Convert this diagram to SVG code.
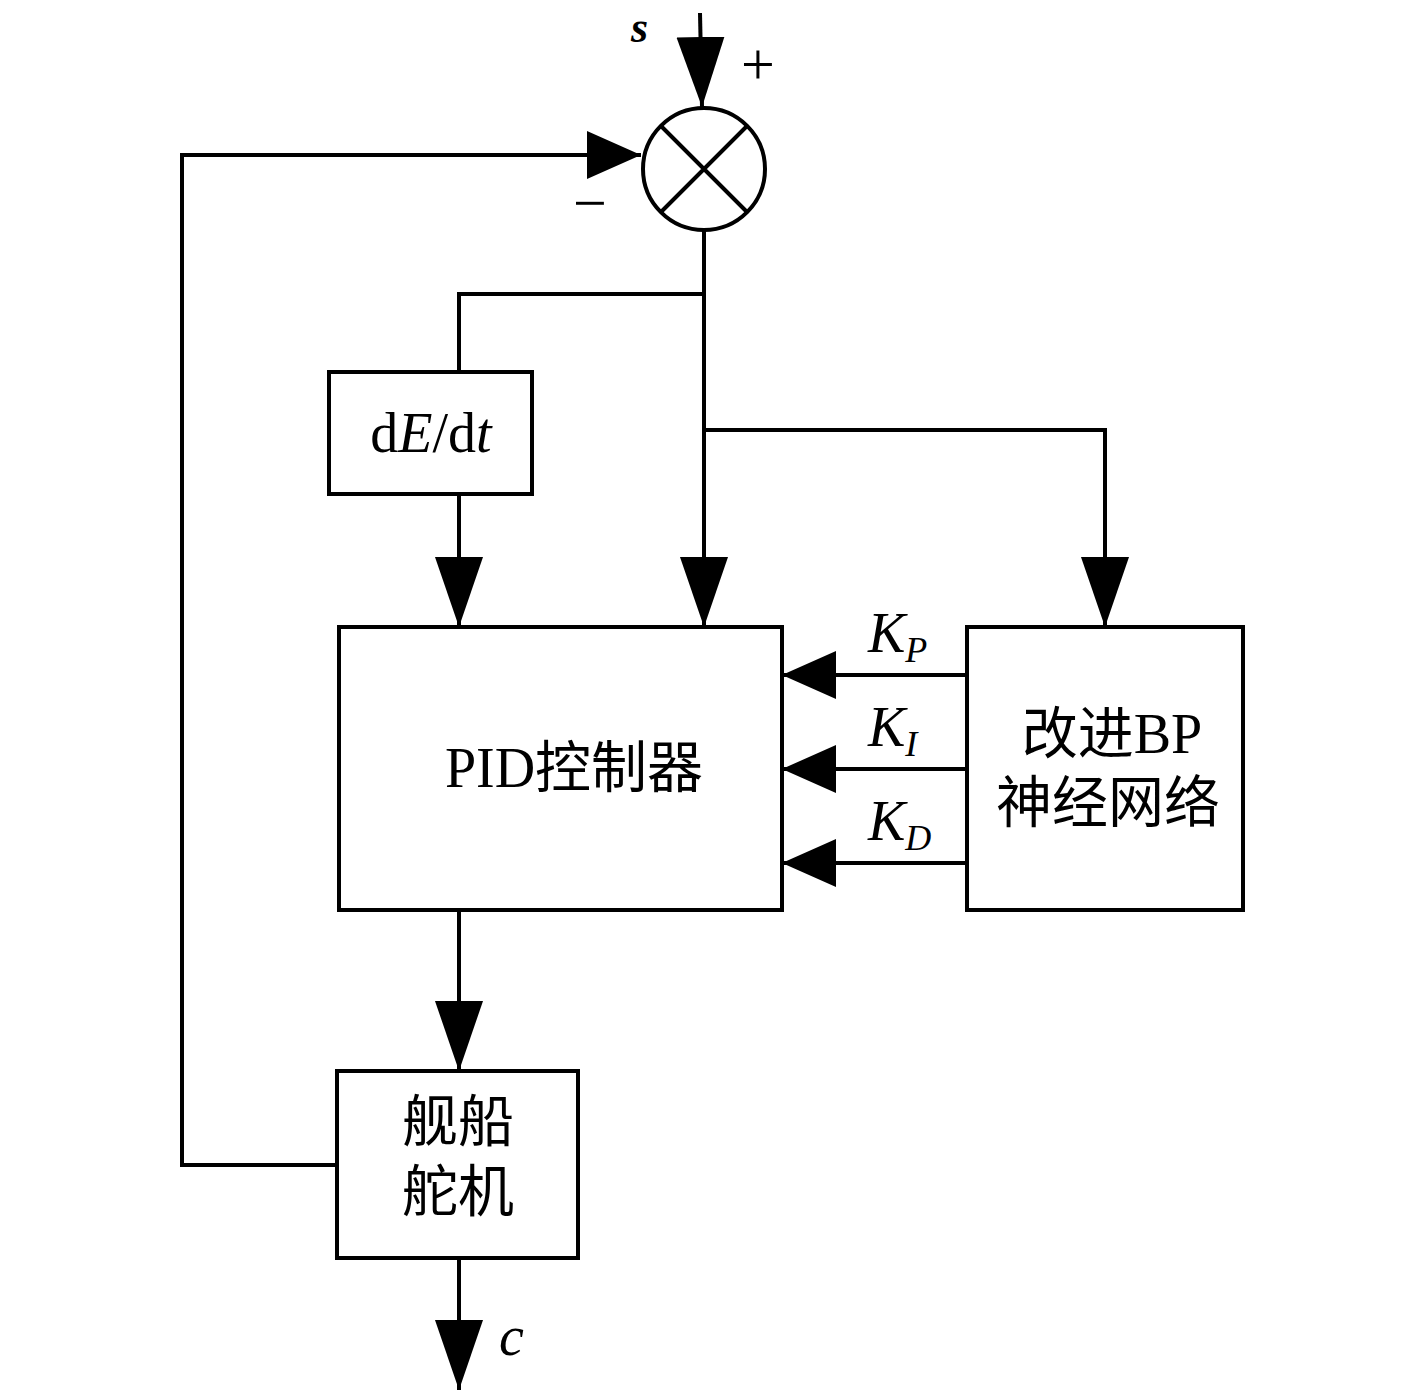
<svg xmlns="http://www.w3.org/2000/svg" width="1417" height="1392" viewBox="0 0 1417 1392">
<style>
.box{fill:#fff;stroke:#000;stroke-width:4}
.ln{fill:none;stroke:#000;stroke-width:4}
.t{font-family:"Liberation Serif","Noto Sans CJK SC",serif;font-size:56px;fill:#000}
.i{font-style:italic}
</style>
<defs>
<marker id="ah" markerUnits="userSpaceOnUse" markerWidth="72" markerHeight="50" refX="70" refY="24" orient="auto" viewBox="0 0 72 50">
<path d="M0,0 L70,24 L0,48 Z" fill="#000"/>
</marker>
<marker id="ahs" markerUnits="userSpaceOnUse" markerWidth="56" markerHeight="50" refX="54" refY="24" orient="auto" viewBox="0 0 56 50">
<path d="M0,0 L54,24 L0,48 Z" fill="#000"/>
</marker>
</defs>
<rect width="1417" height="1392" fill="#fff"/>
<g id="connectors">
<path class="ln" d="M700,13 L702,107" marker-end="url(#ah)"/>
<path class="ln" d="M337,1165 L182,1165 L182,155 L641,155" marker-end="url(#ahs)"/>
<path class="ln" d="M704,231 L704,627" marker-end="url(#ah)"/>
<path class="ln" d="M704,294 L459,294 L459,372"/>
<path class="ln" d="M459,494 L459,627" marker-end="url(#ah)"/>
<path class="ln" d="M704,430 L1105,430 L1105,627" marker-end="url(#ah)"/>
<path class="ln" d="M967,675 L782,675" marker-end="url(#ahs)"/>
<path class="ln" d="M967,769 L782,769" marker-end="url(#ahs)"/>
<path class="ln" d="M967,863 L782,863" marker-end="url(#ahs)"/>
<path class="ln" d="M459,910 L459,1071" marker-end="url(#ah)"/>
<path class="ln" d="M459,1258 L459,1390" marker-end="url(#ah)"/>
</g>
<g id="sum">
<circle cx="704" cy="169" r="61" fill="#fff" stroke="#000" stroke-width="4"/>
<path class="ln" d="M661,126 L747,212 M747,126 L661,212"/>
</g>
<g id="labels">
<text class="t i" x="631" y="42" style="font-size:44px;font-weight:bold">s</text>
<text class="t" x="758" y="84" text-anchor="middle" style="font-size:60px">+</text>
<text class="t" x="590" y="223" text-anchor="middle" style="font-size:60px">−</text>
<text class="t i" x="499" y="1355">c</text>
<text class="t" x="868" y="652"><tspan class="i">K</tspan><tspan class="i" dy="10" style="font-size:36px">P</tspan></text>
<text class="t" x="868" y="746"><tspan class="i">K</tspan><tspan class="i" dy="10" style="font-size:36px">I</tspan></text>
<text class="t" x="868" y="840"><tspan class="i">K</tspan><tspan class="i" dy="10" style="font-size:36px">D</tspan></text>
</g>
<g id="dedt">
<rect class="box" x="329" y="372" width="203" height="122"/>
<text class="t" x="431" y="452" text-anchor="middle">d<tspan class="i">E</tspan>/d<tspan class="i">t</tspan></text>
</g>
<g id="pid">
<rect class="box" x="339" y="627" width="443" height="283"/>
<text class="t" x="574" y="787" text-anchor="middle">PID控制器</text>
</g>
<g id="bp">
<rect class="box" x="967" y="627" width="276" height="283"/>
<text class="t" x="1112" y="753" text-anchor="middle">改进BP</text>
<text class="t" x="1108" y="822" text-anchor="middle">神经网络</text>
</g>
<g id="ship">
<rect class="box" x="337" y="1071" width="241" height="187"/>
<text class="t" x="458" y="1141" text-anchor="middle">舰船</text>
<text class="t" x="458" y="1211" text-anchor="middle">舵机</text>
</g>
</svg>
